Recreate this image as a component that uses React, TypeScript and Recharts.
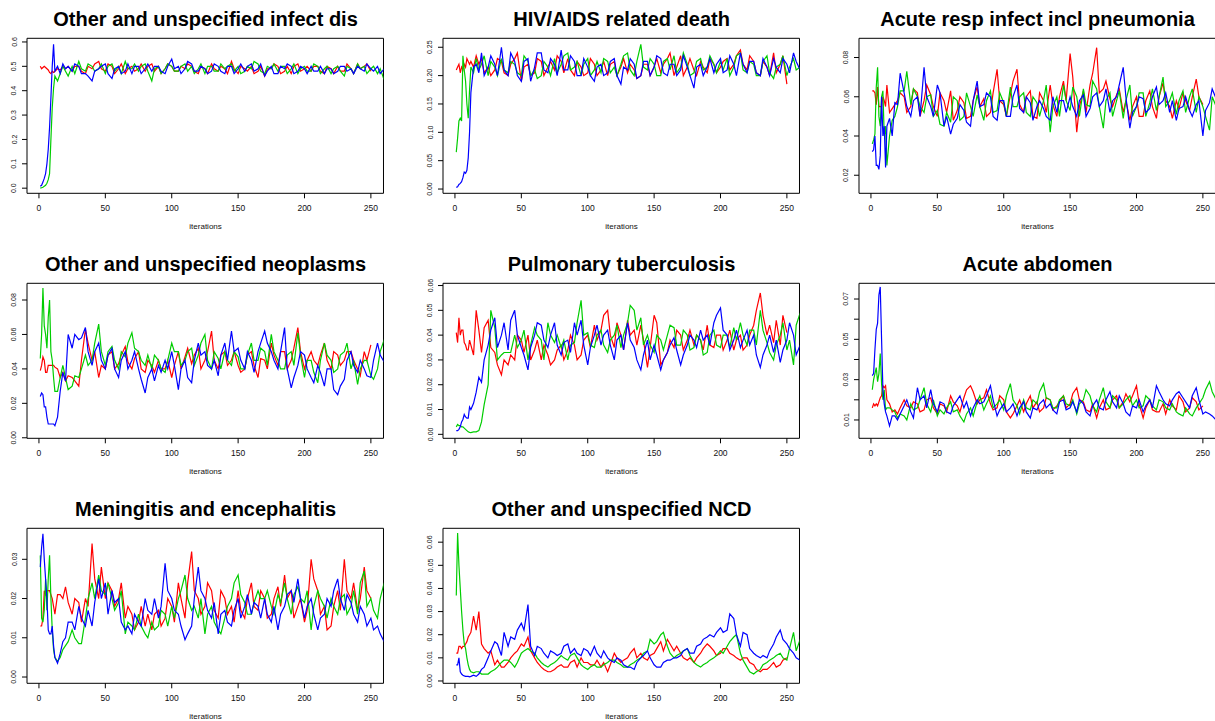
import { LineChart, Line, XAxis, YAxis, ReferenceArea } from 'recharts';

const FONT = '"Liberation Sans", Arial, Helvetica, sans-serif';

// iteration numbers (dense during burn-in)
const ITER = [1, 2, 3, 4, 5, 6, 7, 8, 9, 10, 11, 12, 14, 16, 18, 20, 22,
  25, 27, 30, 32, 35, 37, 40, 42, 45, 47, 50, 52, 55, 57, 60, 62, 65, 67, 70, 72, 75, 77, 80, 82,
  85, 87, 90, 92, 95, 97, 100, 102, 105, 107, 110, 112, 115, 117, 120, 122, 125, 127, 130, 132, 135, 137, 140, 142,
  145, 147, 150, 152, 155, 157, 160, 162, 165, 167, 170, 172, 175, 177, 180, 182, 185, 187, 190, 192, 195, 197, 200, 202,
  205, 207, 210, 212, 215, 217, 220, 222, 225, 227, 230, 232, 235, 237, 240, 242, 245, 247, 250, 252, 255, 257, 260];
const X_TICKS = [0, 50, 100, 150, 200, 250];

// Other and unspecified infect dis
const infectRed = [
  0.5, 0.49, 0.495, 0.5, 0.495, 0.49, 0.485, 0.475, 0.47, 0.48, 0.475, 0.48, 0.49, 0.485, 0.5, 0.49, 0.5,
  0.48, 0.5, 0.5, 0.48, 0.47, 0.5, 0.49, 0.51, 0.52, 0.49, 0.48, 0.51, 0.5, 0.47, 0.49, 0.51, 0.47, 0.49, 0.5, 0.48, 0.49, 0.51, 0.48, 0.5,
  0.51, 0.48, 0.5, 0.47, 0.49, 0.51, 0.5, 0.48, 0.48, 0.5, 0.49, 0.51, 0.5, 0.48, 0.47, 0.5, 0.49, 0.47, 0.51, 0.49, 0.48, 0.5, 0.49, 0.47,
  0.52, 0.49, 0.47, 0.5, 0.49, 0.48, 0.5, 0.47, 0.48, 0.5, 0.46, 0.49, 0.49, 0.51, 0.5, 0.47, 0.48, 0.5, 0.47, 0.5, 0.51, 0.48, 0.49, 0.5,
  0.48, 0.5, 0.5, 0.48, 0.47, 0.5, 0.49, 0.47, 0.5, 0.48, 0.48, 0.51, 0.49, 0.47, 0.51, 0.49, 0.5, 0.51, 0.48, null, null, null, null];
const infectGreen = [
  0, 0.002, 0.004, 0.008, 0.012, 0.02, 0.035, 0.06, 0.2, 0.33, 0.41, 0.46, 0.44, 0.47, 0.5, 0.48, 0.46,
  0.5, 0.47, 0.52, 0.49, 0.48, 0.51, 0.5, 0.48, 0.49, 0.51, 0.47, 0.5, 0.51, 0.48, 0.5, 0.47, 0.52, 0.49, 0.49, 0.51, 0.48, 0.5, 0.51, 0.48,
  0.44, 0.49, 0.5, 0.47, 0.49, 0.51, 0.5, 0.48, 0.48, 0.5, 0.51, 0.48, 0.5, 0.47, 0.49, 0.51, 0.47, 0.5, 0.5, 0.48, 0.48, 0.51, 0.49, 0.5,
  0.51, 0.48, 0.5, 0.47, 0.48, 0.5, 0.49, 0.52, 0.51, 0.48, 0.47, 0.5, 0.49, 0.51, 0.48, 0.5, 0.5, 0.47, 0.49, 0.51, 0.47, 0.49, 0.5, 0.48,
  0.48, 0.51, 0.5, 0.47, 0.49, 0.5, 0.47, 0.49, 0.5, 0.48, 0.46, 0.5, 0.49, 0.47, 0.51, 0.49, 0.5, 0.47, 0.49, 0.5, 0.47, 0.49, 0.445];
const infectBlue = [
  0.008, 0.012, 0.025, 0.04, 0.06, 0.1, 0.16, 0.25, 0.37, 0.5, 0.59, 0.48, 0.5, 0.47, 0.51, 0.49, 0.5,
  0.48, 0.51, 0.5, 0.47, 0.47, 0.46, 0.44, 0.48, 0.49, 0.5, 0.51, 0.47, 0.45, 0.49, 0.5, 0.47, 0.48, 0.51, 0.47, 0.5, 0.5, 0.47, 0.49, 0.51,
  0.48, 0.5, 0.5, 0.48, 0.47, 0.5, 0.53, 0.49, 0.5, 0.47, 0.49, 0.52, 0.51, 0.48, 0.48, 0.5, 0.49, 0.47, 0.48, 0.51, 0.5, 0.48, 0.47, 0.5,
  0.5, 0.47, 0.49, 0.51, 0.48, 0.5, 0.51, 0.48, 0.49, 0.51, 0.46, 0.48, 0.5, 0.47, 0.47, 0.5, 0.49, 0.51, 0.5, 0.47, 0.48, 0.5, 0.49, 0.47,
  0.5, 0.48, 0.48, 0.5, 0.47, 0.49, 0.49, 0.47, 0.48, 0.5, 0.5, 0.48, 0.49, 0.47, 0.5, 0.49, 0.48, 0.51, 0.49, 0.48, 0.5, 0.47, 0.49];

// HIV/AIDS related death
const hivRed = [
  0.21, 0.215, 0.22, 0.205, 0.215, 0.21, 0.22, 0.215, 0.23, 0.225, 0.22, 0.225, 0.215, 0.235, 0.22, 0.23, 0.205,
  0.215, 0.2, 0.21, 0.23, 0.225, 0.205, 0.2, 0.22, 0.23, 0.24, 0.19, 0.215, 0.22, 0.2, 0.205, 0.23, 0.225, 0.2, 0.215, 0.225, 0.21, 0.235, 0.225, 0.205,
  0.23, 0.21, 0.2, 0.225, 0.215, 0.2, 0.205, 0.23, 0.22, 0.2, 0.21, 0.225, 0.2, 0.22, 0.225, 0.2, 0.215, 0.23, 0.205, 0.22, 0.21, 0.195, 0.2, 0.22,
  0.22, 0.2, 0.215, 0.23, 0.205, 0.22, 0.23, 0.24, 0.2, 0.215, 0.235, 0.2, 0.215, 0.23, 0.21, 0.2, 0.225, 0.215, 0.205, 0.23, 0.22, 0.205, 0.215, 0.225,
  0.23, 0.21, 0.22, 0.235, 0.245, 0.22, 0.21, 0.235, 0.225, 0.205, 0.2, 0.225, 0.215, 0.2, 0.24, 0.205, 0.22, 0.235, 0.185, null, null, null, null];
const hivGreen = [
  0.065, 0.09, 0.12, 0.125, 0.12, 0.235, 0.21, 0.19, 0.15, 0.125, 0.175, 0.215, 0.205, 0.23, 0.21, 0.22, 0.235,
  0.2, 0.225, 0.215, 0.2, 0.23, 0.21, 0.205, 0.225, 0.22, 0.205, 0.2, 0.235, 0.225, 0.2, 0.21, 0.195, 0.2, 0.225, 0.215, 0.2, 0.23, 0.205, 0.22, 0.235,
  0.24, 0.21, 0.215, 0.225, 0.2, 0.22, 0.23, 0.2, 0.21, 0.225, 0.205, 0.23, 0.225, 0.205, 0.215, 0.2, 0.22, 0.235, 0.24, 0.21, 0.2, 0.225, 0.255, 0.215,
  0.21, 0.23, 0.22, 0.2, 0.2, 0.225, 0.23, 0.21, 0.235, 0.205, 0.215, 0.24, 0.22, 0.2, 0.205, 0.225, 0.23, 0.21, 0.215, 0.235, 0.22, 0.205, 0.225, 0.21,
  0.23, 0.2, 0.215, 0.235, 0.24, 0.21, 0.205, 0.225, 0.22, 0.2, 0.2, 0.225, 0.235, 0.205, 0.195, 0.215, 0.22, 0.235, 0.2, 0.215, 0.23, 0.21, 0.215];
const hivBlue = [
  0.003, 0.004, 0.008, 0.01, 0.013, 0.02, 0.03, 0.028, 0.033, 0.055, 0.1, 0.17, 0.215, 0.22, 0.205, 0.24, 0.2,
  0.215, 0.235, 0.22, 0.2, 0.25, 0.21, 0.2, 0.24, 0.225, 0.2, 0.19, 0.225, 0.23, 0.19, 0.215, 0.24, 0.24, 0.21, 0.205, 0.23, 0.22, 0.2, 0.245, 0.21,
  0.21, 0.235, 0.225, 0.2, 0.2, 0.23, 0.215, 0.2, 0.19, 0.215, 0.22, 0.2, 0.205, 0.225, 0.23, 0.2, 0.185, 0.215, 0.21, 0.23, 0.22, 0.195, 0.2, 0.225,
  0.225, 0.2, 0.215, 0.235, 0.23, 0.205, 0.2, 0.22, 0.22, 0.2, 0.21, 0.235, 0.215, 0.2, 0.178, 0.215, 0.22, 0.2, 0.215, 0.23, 0.205, 0.22, 0.23, 0.205,
  0.21, 0.235, 0.22, 0.2, 0.24, 0.22, 0.205, 0.225, 0.225, 0.205, 0.2, 0.23, 0.215, 0.2, 0.23, 0.215, 0.205, 0.23, 0.22, 0.205, 0.24, 0.225, 0.21];

// Acute resp infect incl pneumonia
const respRed = [
  0.063, 0.063, 0.062, 0.056, 0.065, 0.055, 0.055, 0.055, 0.06, 0.058, 0.055, 0.066, 0.052, 0.054, 0.056, 0.058, 0.062,
  0.06, 0.052, 0.055, 0.064, 0.062, 0.05, 0.058, 0.066, 0.061, 0.055, 0.05, 0.062, 0.058, 0.052, 0.063, 0.048, 0.053, 0.06, 0.057, 0.049, 0.05, 0.058, 0.065, 0.055,
  0.059, 0.05, 0.052, 0.062, 0.074, 0.058, 0.056, 0.05, 0.061, 0.068, 0.074, 0.056, 0.052, 0.06, 0.063, 0.05, 0.049, 0.062, 0.058, 0.052, 0.066, 0.056, 0.05, 0.06,
  0.068, 0.058, 0.082, 0.07, 0.042, 0.055, 0.063, 0.052, 0.066, 0.072, 0.085, 0.062, 0.064, 0.068, 0.059, 0.055, 0.061, 0.064, 0.052, 0.058, 0.048, 0.055, 0.06, 0.05,
  0.05, 0.058, 0.063, 0.055, 0.049, 0.06, 0.067, 0.058, 0.055, 0.049, 0.058, 0.054, 0.062, 0.058, 0.053, 0.06, 0.069, 0.06, 0.056, null, null, null, null];
const respGreen = [
  0.036, 0.038, 0.041, 0.065, 0.075, 0.05, 0.045, 0.06, 0.063, 0.04, 0.045, 0.025, 0.04, 0.048, 0.05, 0.055, 0.063,
  0.063, 0.073, 0.056, 0.064, 0.06, 0.055, 0.052, 0.06, 0.061, 0.05, 0.053, 0.046, 0.045, 0.052, 0.047, 0.06, 0.058, 0.048, 0.05, 0.062, 0.055, 0.05, 0.061, 0.055,
  0.048, 0.058, 0.063, 0.052, 0.053, 0.062, 0.057, 0.05, 0.065, 0.055, 0.055, 0.06, 0.062, 0.052, 0.05, 0.06, 0.057, 0.05, 0.058, 0.066, 0.042, 0.055, 0.06, 0.05,
  0.066, 0.058, 0.053, 0.065, 0.06, 0.05, 0.064, 0.056, 0.055, 0.068, 0.064, 0.055, 0.044, 0.058, 0.062, 0.05, 0.058, 0.063, 0.049, 0.058, 0.066, 0.05, 0.055, 0.062,
  0.062, 0.05, 0.057, 0.064, 0.053, 0.06, 0.07, 0.055, 0.058, 0.062, 0.051, 0.058, 0.063, 0.052, 0.06, 0.064, 0.052, 0.06, 0.055, 0.05, 0.043, 0.06, 0.055];
const respBlue = [
  0.032, 0.033, 0.04, 0.025, 0.025, 0.023, 0.03, 0.06, 0.04, 0.045, 0.024, 0.045, 0.049, 0.04, 0.057, 0.056, 0.072,
  0.062, 0.055, 0.05, 0.058, 0.06, 0.05, 0.075, 0.06, 0.055, 0.05, 0.066, 0.062, 0.045, 0.05, 0.041, 0.046, 0.049, 0.056, 0.053, 0.047, 0.045, 0.058, 0.068, 0.055,
  0.056, 0.062, 0.06, 0.05, 0.048, 0.058, 0.058, 0.05, 0.05, 0.06, 0.066, 0.054, 0.052, 0.06, 0.057, 0.048, 0.055, 0.058, 0.054, 0.05, 0.048, 0.06, 0.052, 0.058,
  0.058, 0.052, 0.06, 0.055, 0.05, 0.058, 0.061, 0.05, 0.054, 0.06, 0.062, 0.055, 0.058, 0.064, 0.052, 0.058, 0.06, 0.066, 0.075, 0.06, 0.044, 0.052, 0.055, 0.06,
  0.059, 0.052, 0.054, 0.06, 0.065, 0.056, 0.058, 0.062, 0.052, 0.058, 0.048, 0.054, 0.055, 0.06, 0.053, 0.05, 0.056, 0.058, 0.04, 0.053, 0.057, 0.064, 0.059];

// Other and unspecified neoplasms
const neoRed = [
  0.039, 0.042, 0.047, 0.045, 0.038, 0.038, 0.042, 0.042, 0.042, 0.042, 0.042, 0.041, 0.04, 0.035, 0.038, 0.033, 0.036,
  0.035, 0.033, 0.03, 0.045, 0.063, 0.055, 0.045, 0.05, 0.035, 0.042, 0.04, 0.048, 0.05, 0.04, 0.043, 0.048, 0.053, 0.044, 0.04, 0.046, 0.05, 0.04, 0.038, 0.045,
  0.042, 0.038, 0.045, 0.04, 0.04, 0.045, 0.035, 0.042, 0.05, 0.04, 0.047, 0.052, 0.043, 0.048, 0.052, 0.04, 0.045, 0.05, 0.062, 0.045, 0.04, 0.048, 0.05, 0.042,
  0.045, 0.05, 0.042, 0.038, 0.04, 0.048, 0.05, 0.042, 0.035, 0.046, 0.045, 0.04, 0.055, 0.048, 0.042, 0.05, 0.05, 0.04, 0.045, 0.052, 0.064, 0.05, 0.04, 0.045,
  0.05, 0.045, 0.042, 0.048, 0.055, 0.045, 0.04, 0.05, 0.048, 0.042, 0.045, 0.05, 0.05, 0.045, 0.04, 0.036, 0.05, 0.045, 0.054, null, null, null, null];
const neoGreen = [
  0.046, 0.06, 0.087, 0.065, 0.06, 0.052, 0.07, 0.08, 0.05, 0.045, 0.035, 0.027, 0.027, 0.035, 0.042, 0.035, 0.028,
  0.03, 0.036, 0.035, 0.04, 0.048, 0.042, 0.045, 0.055, 0.066, 0.05, 0.042, 0.05, 0.053, 0.045, 0.04, 0.05, 0.047, 0.055, 0.061, 0.052, 0.05, 0.045, 0.042, 0.048,
  0.04, 0.048, 0.045, 0.04, 0.038, 0.045, 0.055, 0.05, 0.05, 0.042, 0.045, 0.05, 0.052, 0.042, 0.048, 0.055, 0.06, 0.045, 0.04, 0.05, 0.046, 0.04, 0.05, 0.045,
  0.042, 0.05, 0.047, 0.04, 0.04, 0.048, 0.055, 0.045, 0.045, 0.052, 0.05, 0.042, 0.06, 0.05, 0.045, 0.04, 0.04, 0.048, 0.05, 0.042, 0.061, 0.048, 0.035, 0.045,
  0.045, 0.038, 0.032, 0.045, 0.055, 0.048, 0.045, 0.038, 0.04, 0.048, 0.05, 0.055, 0.04, 0.045, 0.031, 0.04, 0.045, 0.045, 0.036, 0.034, 0.04, 0.05, 0.057];
const neoBlue = [
  0.024, 0.026, 0.025, 0.018, 0.018, 0.012, 0.008, 0.008, 0.008, 0.008, 0.008, 0.007, 0.012, 0.027, 0.038, 0.033, 0.06,
  0.052, 0.06, 0.057, 0.058, 0.064, 0.05, 0.042, 0.05, 0.055, 0.045, 0.04, 0.048, 0.052, 0.04, 0.035, 0.045, 0.05, 0.04, 0.045, 0.05, 0.04, 0.034, 0.026, 0.035,
  0.04, 0.033, 0.042, 0.038, 0.045, 0.04, 0.05, 0.042, 0.028, 0.04, 0.045, 0.035, 0.032, 0.045, 0.055, 0.048, 0.05, 0.042, 0.04, 0.045, 0.036, 0.048, 0.055, 0.045,
  0.062, 0.05, 0.052, 0.045, 0.04, 0.05, 0.045, 0.038, 0.05, 0.055, 0.062, 0.055, 0.05, 0.045, 0.04, 0.05, 0.064, 0.04, 0.029, 0.035, 0.042, 0.05, 0.048, 0.04,
  0.035, 0.032, 0.042, 0.038, 0.03, 0.04, 0.04, 0.028, 0.025, 0.03, 0.034, 0.045, 0.05, 0.042, 0.038, 0.045, 0.04, 0.036, 0.035, 0.045, 0.055, 0.048, 0.044];

// Pulmonary tuberculosis
const tbRed = [
  0.041, 0.037, 0.047, 0.04, 0.042, 0.042, 0.037, 0.036, 0.034, 0.034, 0.038, 0.036, 0.032, 0.05, 0.042, 0.033, 0.043,
  0.046, 0.035, 0.033, 0.028, 0.024, 0.03, 0.028, 0.032, 0.03, 0.04, 0.038, 0.033, 0.04, 0.03, 0.034, 0.038, 0.03, 0.036, 0.032, 0.028, 0.03, 0.034, 0.036, 0.03,
  0.034, 0.04, 0.036, 0.03, 0.032, 0.038, 0.04, 0.035, 0.044, 0.038, 0.042, 0.048, 0.05, 0.04, 0.035, 0.045, 0.04, 0.034, 0.046, 0.04, 0.042, 0.036, 0.044, 0.038,
  0.027, 0.035, 0.048, 0.045, 0.028, 0.03, 0.033, 0.038, 0.035, 0.042, 0.04, 0.034, 0.038, 0.042, 0.036, 0.04, 0.038, 0.034, 0.044, 0.036, 0.035, 0.04, 0.04, 0.034,
  0.038, 0.042, 0.034, 0.038, 0.04, 0.034, 0.036, 0.04, 0.044, 0.05, 0.057, 0.048, 0.04, 0.044, 0.037, 0.046, 0.036, 0.048, 0.041, null, null, null, null];
const tbGreen = [
  0.003, 0.004, 0.0035, 0.0035, 0.003, 0.003, 0.0025, 0.002, 0.0015, 0.001, 0.0008, 0.0007, 0.001, 0.001, 0.0015, 0.005, 0.012,
  0.02, 0.05, 0.043, 0.03, 0.032, 0.033, 0.033, 0.033, 0.04, 0.035, 0.038, 0.042, 0.03, 0.036, 0.043, 0.04, 0.038, 0.03, 0.045, 0.04, 0.037, 0.04, 0.035, 0.038,
  0.03, 0.036, 0.037, 0.045, 0.054, 0.04, 0.041, 0.036, 0.035, 0.04, 0.042, 0.036, 0.033, 0.038, 0.04, 0.044, 0.035, 0.04, 0.045, 0.052, 0.05, 0.042, 0.047, 0.036,
  0.04, 0.036, 0.033, 0.04, 0.038, 0.034, 0.04, 0.044, 0.043, 0.036, 0.036, 0.042, 0.04, 0.034, 0.035, 0.04, 0.038, 0.032, 0.033, 0.04, 0.042, 0.036, 0.035, 0.04,
  0.04, 0.035, 0.043, 0.038, 0.045, 0.04, 0.036, 0.042, 0.042, 0.036, 0.05, 0.042, 0.037, 0.033, 0.03, 0.036, 0.04, 0.045, 0.034, 0.038, 0.028, 0.044, 0.049];
const tbBlue = [
  0.0015, 0.0015, 0.002, 0.003, 0.005, 0.006, 0.008, 0.007, 0.0065, 0.0065, 0.011, 0.01, 0.0125, 0.017, 0.023, 0.021, 0.03,
  0.036, 0.042, 0.047, 0.035, 0.04, 0.045, 0.034, 0.046, 0.05, 0.04, 0.035, 0.032, 0.026, 0.035, 0.04, 0.045, 0.044, 0.038, 0.035, 0.04, 0.045, 0.036, 0.032, 0.037,
  0.038, 0.033, 0.045, 0.04, 0.046, 0.036, 0.028, 0.035, 0.04, 0.044, 0.036, 0.04, 0.042, 0.036, 0.03, 0.038, 0.04, 0.034, 0.045, 0.038, 0.035, 0.03, 0.026, 0.032,
  0.038, 0.03, 0.036, 0.032, 0.026, 0.03, 0.033, 0.036, 0.039, 0.034, 0.028, 0.032, 0.036, 0.04, 0.038, 0.035, 0.042, 0.038, 0.04, 0.036, 0.045, 0.048, 0.051, 0.042,
  0.04, 0.034, 0.038, 0.042, 0.035, 0.038, 0.042, 0.036, 0.04, 0.032, 0.027, 0.032, 0.036, 0.04, 0.033, 0.038, 0.029, 0.034, 0.038, 0.045, 0.04, 0.032, 0.036];

// Acute abdomen
const abdRed = [
  0.016, 0.018, 0.017, 0.018, 0.017, 0.019, 0.021, 0.022, 0.027, 0.026, 0.027, 0.02, 0.018, 0.014, 0.015, 0.013, 0.016,
  0.02, 0.017, 0.016, 0.019, 0.018, 0.014, 0.015, 0.02, 0.021, 0.016, 0.013, 0.018, 0.017, 0.014, 0.022, 0.019, 0.017, 0.014, 0.021, 0.025, 0.027, 0.024, 0.018, 0.02,
  0.021, 0.025, 0.018, 0.015, 0.016, 0.022, 0.02, 0.014, 0.011, 0.013, 0.017, 0.02, 0.014, 0.018, 0.022, 0.016, 0.019, 0.014, 0.016, 0.021, 0.02, 0.015, 0.017, 0.019,
  0.022, 0.016, 0.018, 0.023, 0.026, 0.02, 0.019, 0.015, 0.014, 0.018, 0.011, 0.016, 0.02, 0.015, 0.016, 0.02, 0.022, 0.016, 0.019, 0.023, 0.019, 0.022, 0.027, 0.018,
  0.011, 0.016, 0.02, 0.015, 0.014, 0.014, 0.018, 0.013, 0.02, 0.017, 0.015, 0.022, 0.019, 0.014, 0.016, 0.021, 0.019, 0.015, 0.017, null, null, null, null];
const abdGreen = [
  0.025, 0.03, 0.033, 0.036, 0.029, 0.033, 0.043, 0.028, 0.02, 0.025, 0.015, 0.016, 0.016, 0.015, 0.014, 0.011, 0.013,
  0.012, 0.01, 0.018, 0.015, 0.016, 0.02, 0.026, 0.018, 0.014, 0.02, 0.012, 0.015, 0.013, 0.016, 0.019, 0.014, 0.015, 0.012, 0.009, 0.013, 0.016, 0.012, 0.019, 0.022,
  0.015, 0.018, 0.022, 0.016, 0.018, 0.02, 0.015, 0.022, 0.028, 0.02, 0.017, 0.013, 0.02, 0.016, 0.015, 0.02, 0.018, 0.024, 0.028, 0.021, 0.02, 0.016, 0.016, 0.02,
  0.022, 0.018, 0.017, 0.02, 0.013, 0.018, 0.02, 0.025, 0.022, 0.017, 0.014, 0.02, 0.026, 0.019, 0.016, 0.022, 0.02, 0.016, 0.018, 0.02, 0.022, 0.017, 0.02, 0.016,
  0.017, 0.022, 0.02, 0.017, 0.015, 0.02, 0.019, 0.016, 0.015, 0.018, 0.014, 0.013, 0.012, 0.016, 0.013, 0.012, 0.016, 0.018, 0.021, 0.025, 0.029, 0.024, 0.02];
const abdBlue = [
  0.032, 0.033, 0.045, 0.055, 0.058, 0.072, 0.076, 0.05, 0.025, 0.018, 0.014, 0.012, 0.007, 0.012, 0.012, 0.01, 0.013,
  0.017, 0.02, 0.014, 0.011, 0.026, 0.02, 0.022, 0.016, 0.025, 0.018, 0.014, 0.019, 0.018, 0.014, 0.013, 0.017, 0.02, 0.022, 0.016, 0.019, 0.012, 0.016, 0.02, 0.018,
  0.019, 0.022, 0.027, 0.02, 0.012, 0.015, 0.018, 0.014, 0.016, 0.018, 0.012, 0.016, 0.019, 0.014, 0.011, 0.016, 0.015, 0.018, 0.02, 0.016, 0.018, 0.015, 0.013, 0.019,
  0.02, 0.015, 0.016, 0.019, 0.014, 0.02, 0.018, 0.014, 0.012, 0.017, 0.02, 0.016, 0.015, 0.02, 0.024, 0.019, 0.016, 0.022, 0.018, 0.014, 0.012, 0.017, 0.016, 0.02,
  0.014, 0.017, 0.02, 0.016, 0.027, 0.024, 0.02, 0.018, 0.017, 0.02, 0.023, 0.024, 0.021, 0.019, 0.016, 0.022, 0.026, 0.02, 0.013, 0.014, 0.013, 0.012, 0.01];

// Meningitis and encephalitis
const menRed = [
  0.013, 0.013, 0.015, 0.022, 0.021, 0.022, 0.022, 0.022, 0.021, 0.02, 0.018, 0.016, 0.021, 0.021, 0.02, 0.023, 0.019,
  0.016, 0.02, 0.019, 0.014, 0.02, 0.018, 0.034, 0.025, 0.02, 0.028, 0.02, 0.024, 0.022, 0.018, 0.02, 0.024, 0.015, 0.018, 0.016, 0.012, 0.014, 0.018, 0.013, 0.016,
  0.012, 0.016, 0.017, 0.013, 0.015, 0.02, 0.018, 0.014, 0.024, 0.02, 0.015, 0.024, 0.032, 0.022, 0.02, 0.016, 0.018, 0.024, 0.022, 0.017, 0.015, 0.022, 0.02, 0.016,
  0.018, 0.014, 0.022, 0.017, 0.015, 0.02, 0.024, 0.018, 0.017, 0.022, 0.02, 0.015, 0.016, 0.02, 0.023, 0.018, 0.026, 0.02, 0.022, 0.015, 0.018, 0.02, 0.014, 0.017,
  0.03, 0.025, 0.022, 0.016, 0.018, 0.012, 0.013, 0.018, 0.022, 0.017, 0.03, 0.022, 0.02, 0.024, 0.017, 0.02, 0.028, 0.022, 0.02, null, null, null, null];
const menGreen = [
  0.031, 0.015, 0.014, 0.017, 0.025, 0.017, 0.025, 0.031, 0.02, 0.012, 0.007, 0.005, 0.004, 0.005, 0.007, 0.008, 0.009,
  0.012, 0.01, 0.0085, 0.0085, 0.015, 0.02, 0.024, 0.02, 0.026, 0.022, 0.021, 0.024, 0.02, 0.017, 0.019, 0.022, 0.011, 0.014, 0.013, 0.012, 0.016, 0.013, 0.011, 0.01,
  0.014, 0.012, 0.013, 0.017, 0.016, 0.013, 0.018, 0.015, 0.02, 0.022, 0.026, 0.02, 0.017, 0.018, 0.015, 0.02, 0.011, 0.016, 0.018, 0.014, 0.012, 0.011, 0.015, 0.018,
  0.02, 0.024, 0.026, 0.021, 0.019, 0.016, 0.016, 0.019, 0.022, 0.02, 0.02, 0.022, 0.018, 0.016, 0.021, 0.019, 0.024, 0.02, 0.016, 0.021, 0.023, 0.02, 0.019, 0.022,
  0.012, 0.018, 0.022, 0.02, 0.018, 0.015, 0.02, 0.018, 0.016, 0.02, 0.021, 0.016, 0.018, 0.022, 0.016, 0.024, 0.027, 0.018, 0.02, 0.017, 0.015, 0.02, 0.024];
const menBlue = [
  0.028, 0.033, 0.0365, 0.03, 0.025, 0.02, 0.012, 0.011, 0.011, 0.013, 0.008, 0.005, 0.0035, 0.006, 0.009, 0.01, 0.014,
  0.014, 0.012, 0.018, 0.015, 0.013, 0.017, 0.013, 0.019, 0.025, 0.02, 0.024, 0.016, 0.022, 0.019, 0.02, 0.014, 0.012, 0.013, 0.011, 0.016, 0.014, 0.013, 0.02, 0.017,
  0.016, 0.02, 0.015, 0.018, 0.029, 0.022, 0.02, 0.017, 0.016, 0.013, 0.0095, 0.011, 0.013, 0.02, 0.028, 0.022, 0.02, 0.017, 0.015, 0.019, 0.011, 0.016, 0.017, 0.014,
  0.013, 0.017, 0.02, 0.015, 0.018, 0.021, 0.016, 0.019, 0.018, 0.015, 0.02, 0.016, 0.014, 0.018, 0.012, 0.016, 0.018, 0.021, 0.022, 0.019, 0.025, 0.02, 0.015, 0.018,
  0.02, 0.016, 0.012, 0.015, 0.016, 0.02, 0.018, 0.022, 0.025, 0.02, 0.017, 0.021, 0.019, 0.016, 0.014, 0.018, 0.016, 0.013, 0.015, 0.012, 0.013, 0.011, 0.009];

// Other and unspecified NCD
const ncdRed = [
  0.012, 0.012, 0.015, 0.015, 0.014, 0.015, 0.015, 0.016, 0.017, 0.019, 0.02, 0.021, 0.028, 0.022, 0.03, 0.016, 0.014,
  0.012, 0.013, 0.007, 0.009, 0.006, 0.006, 0.008, 0.01, 0.012, 0.013, 0.016, 0.015, 0.019, 0.013, 0.01, 0.008, 0.006, 0.005, 0.004, 0.004, 0.005, 0.006, 0.007, 0.006,
  0.006, 0.008, 0.009, 0.006, 0.01, 0.008, 0.008, 0.007, 0.007, 0.009, 0.006, 0.008, 0.004, 0.007, 0.012, 0.01, 0.008, 0.009, 0.01, 0.012, 0.014, 0.01, 0.012, 0.01,
  0.009, 0.011, 0.012, 0.014, 0.017, 0.013, 0.018, 0.016, 0.013, 0.015, 0.012, 0.01, 0.009, 0.01, 0.008, 0.01, 0.012, 0.014, 0.016, 0.015, 0.013, 0.011, 0.012, 0.014,
  0.014, 0.012, 0.011, 0.01, 0.009, 0.01, 0.01, 0.008, 0.007, 0.005, 0.004, 0.005, 0.005, 0.006, 0.008, 0.006, 0.007, 0.009, 0.01, null, null, null, null];
const ncdGreen = [
  0.037, 0.064, 0.05, 0.04, 0.03, 0.022, 0.016, 0.014, 0.01, 0.007, 0.005, 0.004, 0.0035, 0.004, 0.004, 0.003, 0.003,
  0.003, 0.004, 0.005, 0.006, 0.008, 0.009, 0.009, 0.008, 0.006, 0.008, 0.012, 0.013, 0.014, 0.013, 0.012, 0.01, 0.008, 0.007, 0.006, 0.007, 0.008, 0.009, 0.011, 0.01,
  0.009, 0.011, 0.012, 0.01, 0.007, 0.006, 0.005, 0.006, 0.007, 0.006, 0.006, 0.007, 0.008, 0.009, 0.009, 0.008, 0.007, 0.006, 0.006, 0.007, 0.008, 0.009, 0.01, 0.012,
  0.013, 0.018, 0.016, 0.017, 0.02, 0.021, 0.015, 0.012, 0.01, 0.011, 0.012, 0.013, 0.014, 0.011, 0.008, 0.007, 0.006, 0.007, 0.008, 0.009, 0.01, 0.011, 0.013, 0.012,
  0.015, 0.017, 0.019, 0.02, 0.012, 0.009, 0.006, 0.004, 0.003, 0.004, 0.005, 0.007, 0.008, 0.009, 0.01, 0.011, 0.012, 0.01, 0.009, 0.014, 0.021, 0.013, 0.018];
const ncdBlue = [
  0.007, 0.007, 0.01, 0.004, 0.003, 0.0025, 0.0022, 0.002, 0.002, 0.002, 0.0018, 0.002, 0.0025, 0.002, 0.003, 0.005, 0.006,
  0.01, 0.013, 0.017, 0.016, 0.011, 0.021, 0.015, 0.019, 0.018, 0.022, 0.025, 0.022, 0.033, 0.015, 0.011, 0.015, 0.014, 0.012, 0.01, 0.013, 0.012, 0.011, 0.012, 0.015,
  0.016, 0.012, 0.014, 0.012, 0.011, 0.014, 0.013, 0.011, 0.015, 0.012, 0.01, 0.013, 0.01, 0.009, 0.008, 0.01, 0.009, 0.007, 0.006, 0.006, 0.005, 0.008, 0.01, 0.011,
  0.013, 0.01, 0.007, 0.006, 0.006, 0.008, 0.009, 0.009, 0.01, 0.01, 0.011, 0.013, 0.014, 0.012, 0.012, 0.015, 0.016, 0.018, 0.019, 0.02, 0.019, 0.021, 0.023, 0.021,
  0.022, 0.029, 0.027, 0.02, 0.015, 0.021, 0.02, 0.014, 0.012, 0.011, 0.01, 0.011, 0.01, 0.013, 0.016, 0.019, 0.022, 0.018, 0.016, 0.014, 0.012, 0.01, 0.009];

const TICKS_01 = [0, 0.1, 0.2, 0.3, 0.4, 0.5, 0.6];
const LABELS_01 = ['0.0', '0.1', '0.2', '0.3', '0.4', '0.5', '0.6'];
const TICKS_HIV = [0, 0.05, 0.1, 0.15, 0.2, 0.25];
const LABELS_HIV = ['0.00', '0.05', '0.10', '0.15', '0.20', '0.25'];
const TICKS_RESP = [0.02, 0.04, 0.06, 0.08];
const LABELS_RESP = ['0.02', '0.04', '0.06', '0.08'];
const TICKS_NEO = [0, 0.02, 0.04, 0.06, 0.08];
const LABELS_NEO = ['0.00', '0.02', '0.04', '0.06', '0.08'];
const TICKS_06 = [0, 0.01, 0.02, 0.03, 0.04, 0.05, 0.06];
const LABELS_06 = ['0.00', '0.01', '0.02', '0.03', '0.04', '0.05', '0.06'];
const TICKS_ABD = [0.01, 0.02, 0.03, 0.04, 0.05, 0.06, 0.07];
const LABELS_ABD = ['0.01', '', '0.03', '', '0.05', '', '0.07'];
const TICKS_MEN = [0, 0.01, 0.02, 0.03];
const LABELS_MEN = ['0.00', '0.01', '0.02', '0.03'];

const panels = [
  { title: 'Other and unspecified infect dis', red: infectRed, green: infectGreen, blue: infectBlue, y: [-0.021, 0.615], ticks: TICKS_01, labels: LABELS_01 },
  { title: 'HIV/AIDS related death', red: hivRed, green: hivGreen, blue: hivBlue, y: [-0.0075, 0.2658], ticks: TICKS_HIV, labels: LABELS_HIV },
  { title: 'Acute resp infect incl pneumonia', red: respRed, green: respGreen, blue: respBlue, y: [0.0108, 0.0898], ticks: TICKS_RESP, labels: LABELS_RESP },
  { title: 'Other and unspecified neoplasms', red: neoRed, green: neoGreen, blue: neoBlue, y: [-0.0003, 0.0897], ticks: TICKS_NEO, labels: LABELS_NEO },
  { title: 'Pulmonary tuberculosis', red: tbRed, green: tbGreen, blue: tbBlue, y: [-0.0016, 0.0609], ticks: TICKS_06, labels: LABELS_06 },
  { title: 'Acute abdomen', red: abdRed, green: abdGreen, blue: abdBlue, y: [0.0009, 0.0778], ticks: TICKS_ABD, labels: LABELS_ABD },
  { title: 'Meningitis and encephalitis', red: menRed, green: menGreen, blue: menBlue, y: [-0.0016, 0.0379], ticks: TICKS_MEN, labels: LABELS_MEN },
  { title: 'Other and unspecified NCD', red: ncdRed, green: ncdGreen, blue: ncdBlue, y: [-0.001, 0.066], ticks: TICKS_06, labels: LABELS_06 },
];

const X_DOMAIN = [-9, 259.5];
const BOX_W = 356.5;
const BOX_H = 155;
const BOX_TOP = 38.3;
const Y_AXIS_W = 27;
const COL_STEP = 416;
const ROW_STEP = 245;

const YTick = (props: any) => {
  const { x, y, payload, ticks, labels } = props;
  const i = ticks.findIndex((t: number) => Math.abs(t - payload.value) < 1e-9);
  const bx = x - 3.5;
  return (
    <text x={bx} y={y} transform={`rotate(-90 ${bx} ${y})`} textAnchor="middle" fontSize={7} fill="#111" fontFamily={FONT}>
      {i >= 0 ? labels[i] : ''}
    </text>
  );
};

function Trace({ p }: any) {
  const rows = ITER.map((it, i) => ({ iter: it, red: p.red[i], green: p.green[i], blue: p.blue[i] }));
  return (
    <LineChart width={Y_AXIS_W + BOX_W + 2} height={BOX_TOP + BOX_H + 30} data={rows} margin={{ top: BOX_TOP, right: 2, bottom: 0, left: 0 }}>
      <XAxis type="number" dataKey="iter" domain={X_DOMAIN} allowDataOverflow ticks={X_TICKS} interval={0} height={30}
        axisLine={false} tickSize={5} tickMargin={6.5} tickLine={{ stroke: '#000' }}
        tick={{ fontSize: 8.5, fill: '#111', fontFamily: FONT }} />
      <YAxis type="number" domain={p.y} allowDataOverflow ticks={p.ticks} interval={0} width={Y_AXIS_W}
        axisLine={false} tickSize={5} tickMargin={2} tickLine={{ stroke: '#000' }}
        tick={(tp: any) => <YTick {...tp} ticks={p.ticks} labels={p.labels} />} />
      <Line type="linear" dataKey="red" stroke="#ff0000" strokeWidth={1.2} dot={false} isAnimationActive={false} />
      <Line type="linear" dataKey="green" stroke="#00cd00" strokeWidth={1.2} dot={false} isAnimationActive={false} />
      <Line type="linear" dataKey="blue" stroke="#0000ff" strokeWidth={1.2} dot={false} isAnimationActive={false} />
      <ReferenceArea x1={X_DOMAIN[0]} x2={X_DOMAIN[1]} y1={p.y[0]} y2={p.y[1]} fill="none" stroke="#000" strokeWidth={1} ifOverflow="visible" />
    </LineChart>
  );
}

export default function App() {
  return (
    <div style={{ position: 'fixed', left: 0, top: 0, width: 1215, height: 721, overflow: 'hidden', background: '#fff' }}>
      {panels.map((p, k) => {
        const col = k % 3;
        const row = Math.floor(k / 3);
        return (
          <div key={k} style={{ position: 'absolute', left: col * COL_STEP + 0.3, top: row * ROW_STEP }}>
            <Trace p={p} />
          </div>
        );
      })}
      <svg width={1215} height={721} style={{ position: 'absolute', left: 0, top: 0, pointerEvents: 'none' }}>
        {panels.map((p, k) => {
          const cx = (k % 3) * COL_STEP + 0.3 + Y_AXIS_W + BOX_W / 2;
          const top = Math.floor(k / 3) * ROW_STEP + BOX_TOP;
          return (
            <g key={k} fontFamily={FONT} textAnchor="middle" fill="#000">
              <text x={cx} y={top - 12.3} fontSize={20} fontWeight="bold">{p.title}</text>
              <text x={cx} y={top + BOX_H + 35.5} fontSize={8} fill="#111">iterations</text>
            </g>
          );
        })}
      </svg>
    </div>
  );
}
